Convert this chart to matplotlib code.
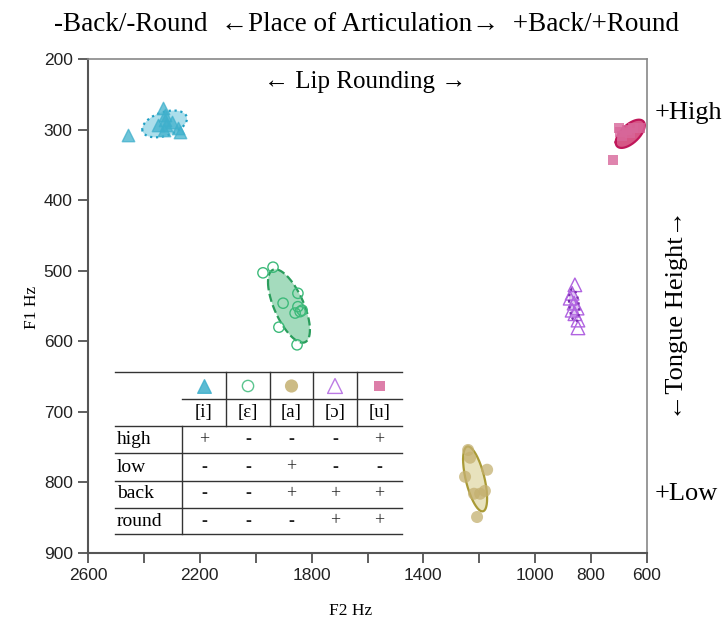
import numpy as np
import matplotlib
matplotlib.use("Agg")
import matplotlib.pyplot as plt

serif = ['Liberation Serif', 'DejaVu Serif']
sans = ['Liberation Sans', 'DejaVu Sans']

# vowel tokens, F2 / F1 in Hz
i_f2 = [2332, 2324, 2324, 2321, 2328, 2278, 2271, 2299, 2350, 2457]
i_f1 = [270, 279, 286, 294, 301, 298, 303, 289, 294, 308]

eps_f2 = [1974, 1938, 1902, 1849, 1849, 1859, 1841, 1834, 1917, 1852]
eps_f1 = [503, 495, 546, 532, 551, 560, 558, 556, 580, 605]

a_f2 = [1240, 1233, 1251, 1172, 1219, 1197, 1180, 1208]
a_f1 = [754, 765, 792, 782, 816, 816, 812, 849]

oo_f2 = [858, 868, 875, 861, 850, 858, 847, 847, 868]
oo_f1 = [520, 532, 539, 546, 553, 561, 570, 581, 556]

u_f2 = [696, 671, 650, 625, 689, 661, 700, 722]
u_f1 = [303, 301, 298, 298, 309, 305, 298, 343]

# ellipse summaries: mean F2, mean F1, sd F2, sd F1, correlation
ell_mf2 = [2326, 1881, 1215, 861, 660]
ell_mf1 = [292, 550, 795, 549, 306]
ell_sf2 = [80, 75, 43, 18, 52]
ell_sf1 = [19, 52, 46, 23, 20]
ell_r = [0.4, -0.65, -0.6, -0.3, 0.6]

vowels = ['[i]', '[ɛ]', '[a]', '[ɔ]', '[u]']
features = ['high', 'low', 'back', 'round']
feature_values = [
    ['+', '-', '-', '-', '+'],
    ['-', '-', '+', '-', '-'],
    ['-', '-', '+', '+', '+'],
    ['-', '-', '-', '+', '+'],
]

x_ticks = [2600, 2400, 2200, 2000, 1800, 1600, 1400, 1200, 1000, 800, 600]
x_tick_labels = ['2600', '', '2200', '', '1800', '', '1400', '', '1000', '800', '600']
y_ticks = [200, 300, 400, 500, 600, 700, 800, 900]

# marker styles for each vowel
styles = [
    dict(marker='^', s=80, facecolors='#3fb0cc', edgecolors='#3fb0cc', alpha=0.75),
    dict(marker='o', s=55, facecolors='none', edgecolors='#3dba7a', linewidths=1.0),
    dict(marker='o', s=75, facecolors='#c4b070', edgecolors='none', alpha=0.75),
    dict(marker='^', s=95, facecolors='none', edgecolors='#b063e0', linewidths=1.0),
    dict(marker='s', s=50, facecolors='#d8679a', edgecolors='none', alpha=0.8),
]
ell_fill = ['#a3dbe9', '#9ad8b6', '#e6dfb6', '#c9a0e8', '#cc2d68']
ell_edge = ['#1f9fc4', '#2a9d5c', '#a99a35', '#7b2fb0', '#c0175a']
ell_ls = [':', '--', '-', ':', '-']
ell_alpha = [0.9, 0.9, 0.9, 0.6, 0.8]
ell_z = [3, 3, 3, 5, 3]

fig = plt.figure(figsize=(7.28, 6.24), dpi=100)
ax = fig.add_axes([88 / 728, 1 - 553 / 624, 559 / 728, 494 / 624])

t = np.linspace(0, 2 * np.pi, 200)
for k in range(5):
    ex = ell_mf2[k] + ell_sf2[k] * np.cos(t)
    ey = ell_mf1[k] + ell_sf1[k] * (ell_r[k] * np.cos(t) + np.sqrt(1 - ell_r[k] ** 2) * np.sin(t))
    ax.fill(ex, ey, color=ell_fill[k], alpha=ell_alpha[k], lw=0, zorder=2)
    ax.plot(ex, ey, color=ell_edge[k], ls=ell_ls[k], lw=1.6, zorder=ell_z[k])

all_f2 = [i_f2, eps_f2, a_f2, oo_f2, u_f2]
all_f1 = [i_f1, eps_f1, a_f1, oo_f1, u_f1]
for k in range(5):
    ax.scatter(all_f2[k], all_f1[k], zorder=4, **styles[k])

ax.set_xlim(2600, 600)
ax.set_ylim(900, 200)
ax.set_xticks(x_ticks)
ax.set_xticklabels(x_tick_labels, family=sans, fontsize=12.5, color='#222')
ax.set_yticks(y_ticks)
ax.set_yticklabels([str(v) for v in y_ticks], family=sans, fontsize=12.5, color='#222')
ax.tick_params(direction='out', length=7, width=1.2, color='#444', pad=4)
for side in ['top', 'right']:
    ax.spines[side].set_color('#888')
    ax.spines[side].set_linewidth(1.2)
for side in ['left', 'bottom']:
    ax.spines[side].set_color('#555')
    ax.spines[side].set_linewidth(1.5)

# feature table, placed in axes fraction from picture pixels
def ax_x(px):
    return (px - 88) / 559

def ax_y(py):
    return (553 - py) / 494

line_kw = dict(color='#333', lw=1.0, transform=ax.transAxes, clip_on=False, zorder=5)
row_lines = [372, 399, 426, 453, 481, 508, 534]
for j, py in enumerate(row_lines):
    x0 = 182 if j == 1 else 115
    ax.plot([ax_x(x0), ax_x(402)], [ax_y(py), ax_y(py)], **line_kw)
ax.plot([ax_x(182), ax_x(182)], [ax_y(426), ax_y(534)], **line_kw)
col_edges = [182, 226, 270, 313, 357, 402]
for px in col_edges[1:-1]:
    ax.plot([ax_x(px), ax_x(px)], [ax_y(372), ax_y(426)], **line_kw)

col_cx = [(col_edges[c] + col_edges[c + 1]) / 2 for c in range(5)]
for c in range(5):
    st = dict(styles[c])
    st['s'] = st['s'] * 1.2
    st.pop('alpha', None)
    ax.scatter([ax_x(col_cx[c])], [ax_y(386)], transform=ax.transAxes, clip_on=False,
               zorder=6, alpha=0.85, **st)
    ax.text(ax_x(col_cx[c]), ax_y(413), vowels[c], transform=ax.transAxes,
            ha='center', va='center', family=serif, fontsize=13.5)
row_cy = [440, 467, 494, 521]
for r in range(4):
    ax.text(ax_x(117), ax_y(row_cy[r]), features[r], transform=ax.transAxes,
            ha='left', va='center', family=serif, fontsize=14)
    for c in range(5):
        v = feature_values[r][c]
        ax.text(ax_x(col_cx[c]), ax_y(row_cy[r]), v, transform=ax.transAxes,
                ha='center', va='center', family=serif, fontsize=13,
                fontweight='bold' if v == '-' else 'normal', color='#222')

# annotations
fig.text(0.503, 0.961, '-Back/-Round  \u2190Place of Articulation\u2192  +Back/+Round',
         ha='center', va='center', family=serif, fontsize=19.5)
fig.text(0.501, 0.869, '\u2190 Lip Rounding \u2192', ha='center', va='center',
         family=serif, fontsize=18)
fig.text(0.899, 0.819, '+High', ha='left', va='center', family=serif, fontsize=19)
fig.text(0.899, 0.208, '+Low', ha='left', va='center', family=serif, fontsize=19)
fig.text(0.930, 0.495, '\u2190Tongue Height\u2192', ha='center', va='center',
         rotation=90, family=serif, fontsize=19)
fig.text(0.044, 0.508, 'F1 Hz', ha='center', va='center', rotation=90,
         family=serif, fontsize=12.5)
fig.text(0.482, 0.021, 'F2 Hz', ha='center', va='center', family=serif, fontsize=12.5)

fig.savefig('out.png', dpi=100)
